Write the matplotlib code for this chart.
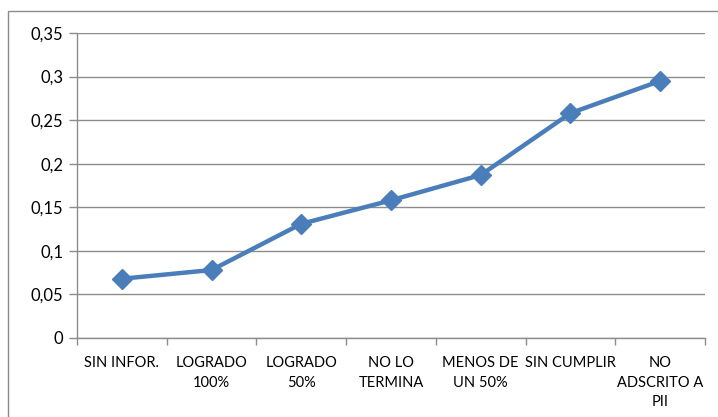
import matplotlib
matplotlib.use('Agg')
import matplotlib.pyplot as plt
import matplotlib.patches as patches
import numpy as np

categorias = ['SIN INFOR.', 'LOGRADO\n100%', 'LOGRADO\n50%', 'NO LO\nTERMINA',
              'MENOS DE\nUN 50%', 'SIN CUMPLIR', 'NO\nADSCRITO A\nPII']
valores = [0.068, 0.078, 0.131, 0.158, 0.187, 0.258, 0.295]
yticks = [0, 0.05, 0.1, 0.15, 0.2, 0.25, 0.3, 0.35]
ylabels = ['0', '0,05', '0,1', '0,15', '0,2', '0,25', '0,3', '0,35']

plt.rcParams['font.family'] = ['Lato', 'DejaVu Sans']
fig = plt.figure(figsize=(7.18, 4.17), dpi=100)
ax = fig.add_axes([77/718, 79/417, 628/718, 305/417])

# marco exterior del grafico
marco = patches.Rectangle((8/718, -0.2), 1.2, (406/417) + 0.2, transform=fig.transFigure,
                          fill=False, edgecolor='#8c8c8c', linewidth=1.0)
fig.patches.append(marco)

x = np.arange(len(categorias))
ax.plot(x, valores, color='#4a7ebb', linewidth=3.2, marker='D', markersize=10,
        markerfacecolor='#4a7ebb', markeredgecolor='#4a7ebb', zorder=3)

ax.set_xlim(-0.5, len(categorias) - 0.5)
ax.set_ylim(0, 0.35)
ax.set_yticks(yticks)
ax.set_yticklabels(ylabels, fontsize=12)
ax.set_xticks(x)
ax.set_xticklabels(categorias, fontsize=10.5, linespacing=1.5)
ax.set_xticks(np.arange(-0.5, len(categorias), 1), minor=True)
ax.tick_params(axis='x', which='major', length=0, pad=13)
ax.tick_params(axis='x', which='minor', length=5, color='#8c8c8c', width=1)
ax.tick_params(axis='y', length=6, color='#8c8c8c', width=1, pad=4)

ax.grid(axis='y', color='#8c8c8c', linewidth=1)
ax.set_axisbelow(True)
for s in ['top', 'right']:
    ax.spines[s].set_visible(False)
for s in ['left', 'bottom']:
    ax.spines[s].set_color('#8c8c8c')
    ax.spines[s].set_linewidth(1)

fig.savefig('out.png', dpi=100)
